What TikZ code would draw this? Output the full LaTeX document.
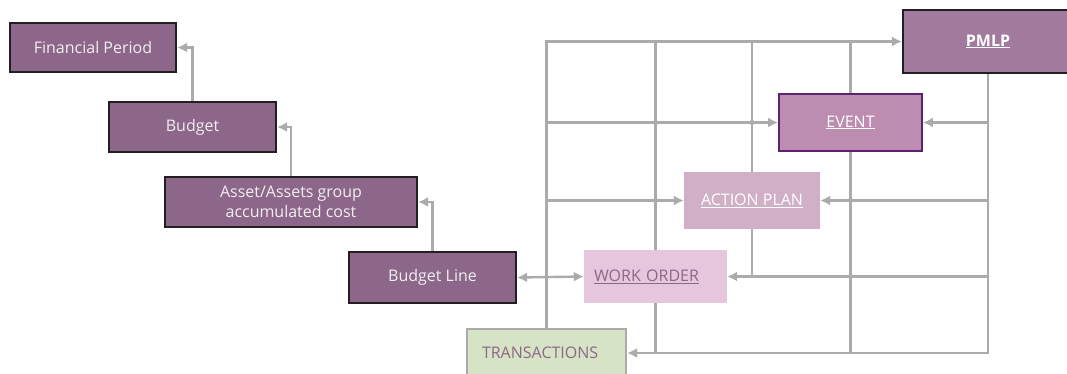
\documentclass[tikz,border=0pt]{standalone}
\usepackage{fontspec}
\setmainfont{Open Sans}
\usetikzlibrary{arrows.meta}

\definecolor{plum}{HTML}{8C6789}
\definecolor{plumlight}{HTML}{A27A9E}
\definecolor{eventfill}{HTML}{BC8DB1}
\definecolor{eventline}{HTML}{5E2070}
\definecolor{planfill}{HTML}{D1B0C7}
\definecolor{orderfill}{HTML}{E6C6DC}
\definecolor{transfill}{HTML}{D6E3C4}
\definecolor{boxline}{HTML}{231F20}
\definecolor{linkgray}{HTML}{ABABAB}
\definecolor{paletext}{HTML}{F4EDF2}

\begin{document}
\begin{tikzpicture}[x=1pt, y=-1pt,
  box/.style={rectangle, inner sep=0pt, align=center,
    font=\fontsize{16}{20}\selectfont},
  darkbox/.style={box, fill=plum, draw=boxline, line width=2.2pt, text=paletext},
  link/.style={draw=linkgray, line width=2.4pt},
  arr/.style={link, -{Latex[length=10pt,width=10pt]}},
  hop/.style={fill=linkgray}]
  \path[use as bounding box, clip] (0,0) rectangle (1067,373);

  % Budget chain
  \node[darkbox, minimum width=166, minimum height=49] (fin) at (93,47.5) {Financial Period};
  \node[darkbox, minimum width=167, minimum height=50] (budget) at (192.5,127) {Budget};
  \node[darkbox, minimum width=252, minimum height=50] (asset) at (291,202)
    {Asset/Assets group\\accumulated cost};
  \node[darkbox, minimum width=167, minimum height=51] (bline) at (432.5,277.5) {Budget Line};

  \draw[arr] (budget.north) |- (fin.east);
  \draw[arr] (asset.north) |- (budget.east);
  \draw[arr] (bline.north) |- (asset.east);

  % Maintenance side
  \node[box, fill=plumlight, draw=boxline, line width=2.2pt, text=white,
    minimum width=170, minimum height=63] (pmlp) at (988,41.5) {\bfseries\underline{PMLP}};
  \node[box, fill=eventfill, draw=eventline, line width=1.8pt, text=white,
    minimum width=143, minimum height=57] (event) at (850.5,122.5) {\underline{EVENT}};
  \node[box, fill=planfill, text=white,
    minimum width=136, minimum height=57] (action) at (752,200.5) {\underline{ACTION PLAN}};
  \node[box, fill=orderfill, text=plum, minimum width=143, minimum height=53,
    text width=123, inner xsep=10, align=left] (work) at (655.5,276.5) {\underline{WORK ORDER}};
  \node[box, fill=transfill, draw=linkgray, line width=2.2pt, text=plum, minimum width=159,
    minimum height=48, text width=129, inner xsep=15, align=left] (trans) at (546.5,353) {TRANSACTIONS};

  % Left trunk
  \draw[arr] (trans.north) |- (pmlp.west);
  \draw[arr] (trans.north |- event.west) -- (event.west);
  \draw[arr] (trans.north |- action.west) -- (action.west);
  \draw[link, {Latex[length=10pt,width=10pt]}-{Latex[length=10pt,width=10pt]}] (bline.east) -- (work.west);

  % Right trunk
  \draw[arr] (pmlp.south) |- (trans.east);
  \draw[arr] (pmlp.south |- event.east) -- (event.east);
  \draw[arr] (pmlp.south |- action.east) -- (action.east);
  \draw[arr] (pmlp.south |- work.east) -- (work.east);

  % Cross lines
  \draw[link] (work.north) -- (work.north |- pmlp.west);
  \draw[link] (work.south) -- (work.south |- trans.east);
  \draw[link] (action.north) -- (action.north |- pmlp.west);
  \draw[link] (action.south) -- (action.south |- work.east);
  \draw[link] (event.north) -- (event.north |- pmlp.west);
  \draw[link] (event.south) -- (event.south |- trans.east);

  % Hops
  \fill[hop] (work.north |- event.west) circle (2.6pt);
  \fill[hop] (action.north |- event.west) circle (2.6pt);
  \fill[hop] (work.north |- action.west) circle (2.6pt);
  \fill[hop] (event.south |- action.east) circle (2.6pt);
  \fill[hop] (event.south |- work.east) circle (2.6pt);
\end{tikzpicture}
\end{document}
